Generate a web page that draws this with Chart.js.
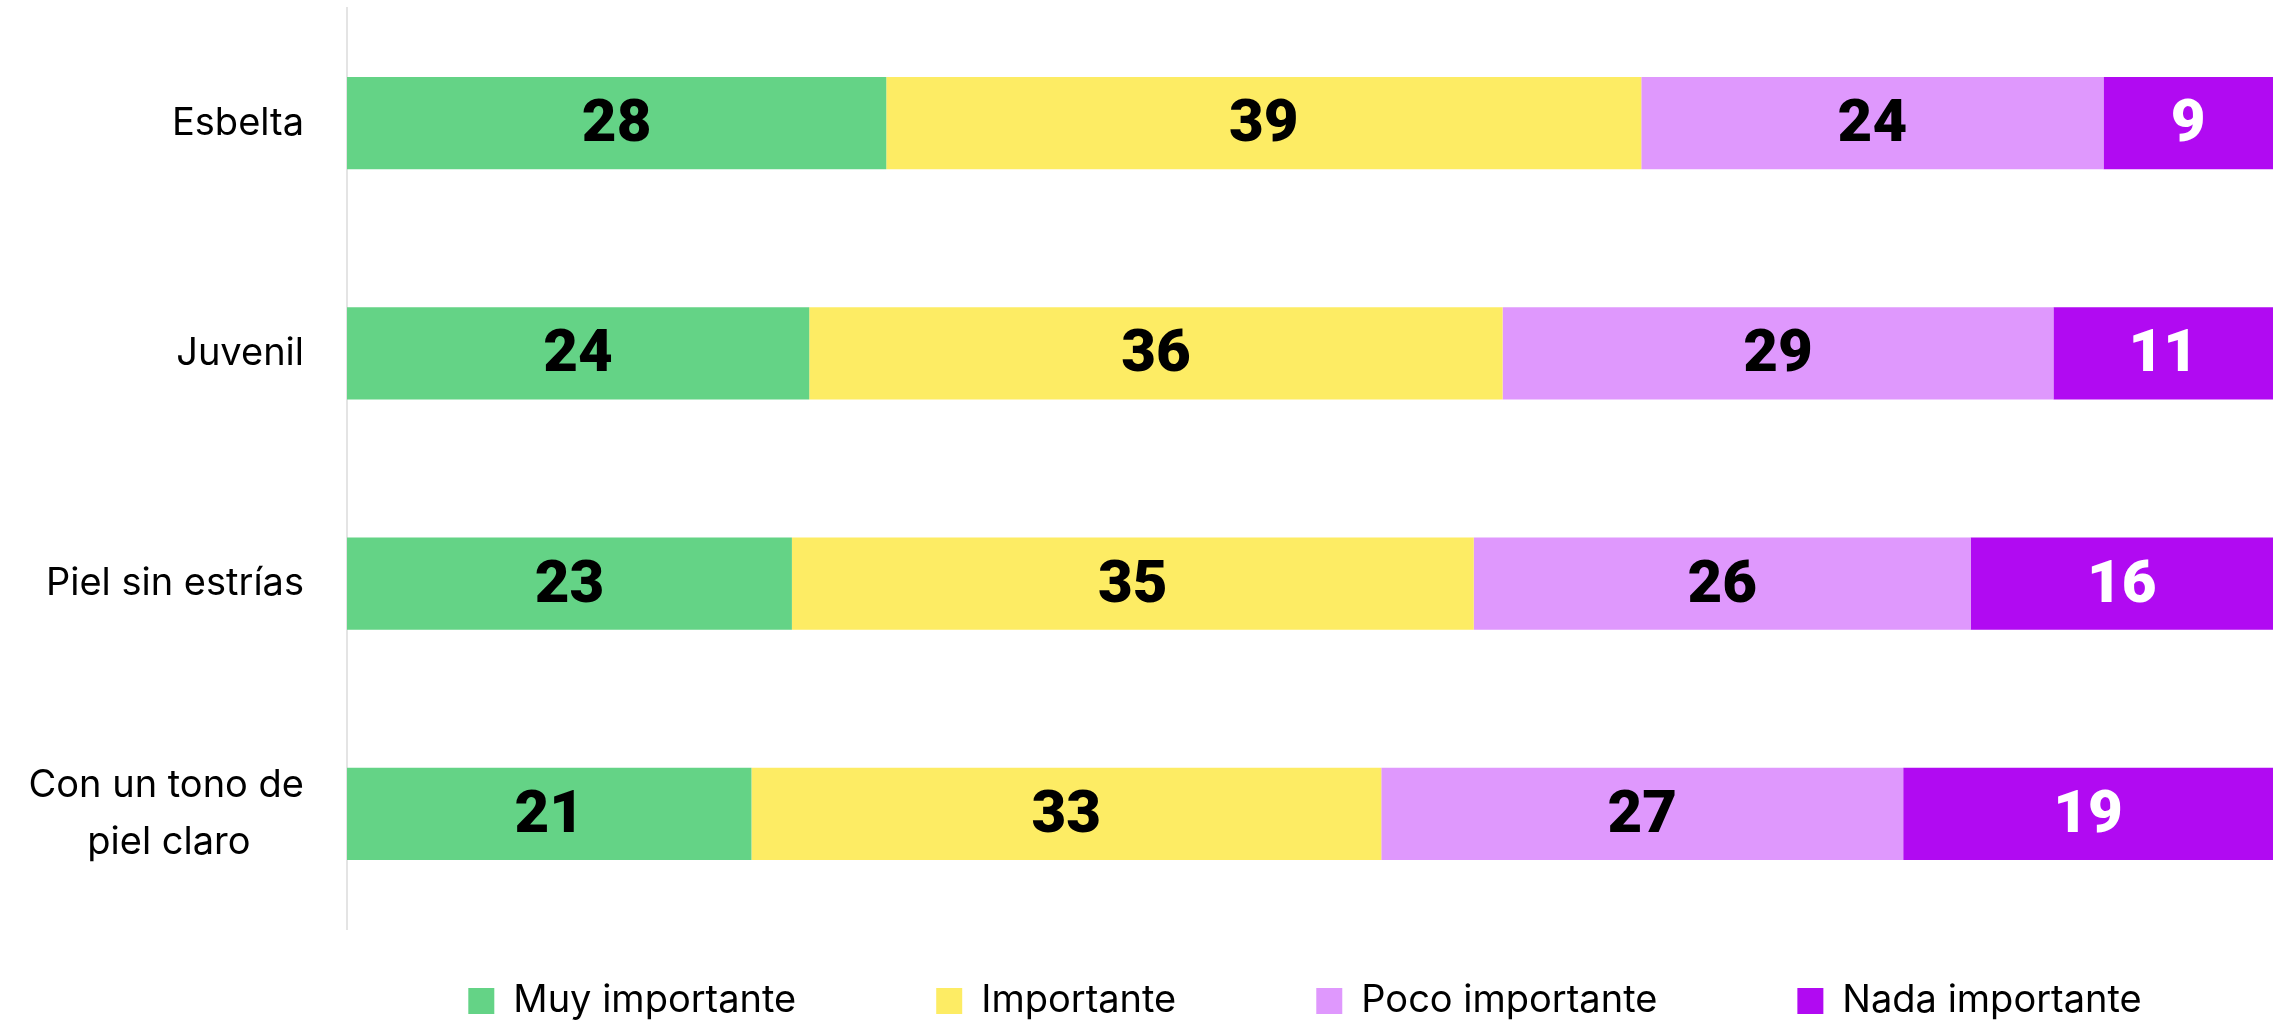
<!DOCTYPE html>
<html>
<head>
<meta charset="utf-8">
<script src="https://cdn.jsdelivr.net/npm/chart.js@4.4.0/dist/chart.umd.min.js"></script>
<style>
  html, body { margin: 0; padding: 0; background: #fff; }
  #wrap { width: 2288px; height: 1021px; }
</style>
</head>
<body>
<div id="wrap"><canvas id="chart"></canvas></div>
<script>
const categories = ['Esbelta', 'Juvenil', 'Piel sin estrías', ['Con un tono de', 'piel claro']];
const seriesNames = ['Muy importante', 'Importante', 'Poco importante', 'Nada importante'];
// shares in %; labels show them rounded
const muyImportante = [28.0, 24.0, 23.1, 21.0];
const importante = [39.2, 36.0, 35.4, 32.7];
const pocoImportante = [24.0, 28.6, 25.8, 27.1];
const nadaImportante = [8.8, 11.4, 15.7, 19.2];

const colors = ['#64d386', '#fdec64', '#df98fd', '#b10af2'];
const valueColors = ['#000', '#000', '#000', '#fff'];
const tickFont = '38px Inter';

// pad shorter lines so multi-line labels look centred on each other
const measureCtx = document.createElement('canvas').getContext('2d');
function centerLines(lines) {
  if (!Array.isArray(lines)) return lines;
  measureCtx.font = tickFont;
  const widths = lines.map(l => measureCtx.measureText(l).width);
  const max = Math.max(...widths);
  const space = measureCtx.measureText(' ').width;
  return lines.map((l, i) => l + ' '.repeat(Math.round((max - widths[i]) / 2 / space)));
}

const valueLabels = {
  id: 'valueLabels',
  afterDatasetsDraw(chart) {
    const ctx = chart.ctx;
    ctx.save();
    ctx.font = '900 60px Roboto';
    ctx.textAlign = 'center';
    ctx.textBaseline = 'middle';
    chart.data.datasets.forEach((ds, i) => {
      chart.getDatasetMeta(i).data.forEach((bar, j) => {
        const p = bar.getProps(['x', 'y', 'base'], true);
        ctx.fillStyle = valueColors[i];
        ctx.fillText(Math.round(ds.data[j]), (p.x + p.base) / 2, p.y + 3);
      });
    });
    ctx.restore();
  }
};

// legend: one row centred under the plot area
const legendPlace = {
  id: 'legendPlace',
  afterLayout(chart) {
    const lg = chart.legend;
    const ca = chart.chartArea;
    const mid = (ca.left + ca.right) / 2 - 5;
    lg.left = mid - 1100;
    lg.right = mid + 1100;
    lg.top = 982 - lg.options.labels.padding;
  }
};

new Chart(document.getElementById('chart'), {
  type: 'bar',
  data: {
    labels: categories,
    datasets: [muyImportante, importante, pocoImportante, nadaImportante].map((d, i) => ({
      label: seriesNames[i],
      data: d,
      backgroundColor: colors[i],
      borderWidth: 0,
      barPercentage: 0.4,
      categoryPercentage: 1
    }))
  },
  options: {
    indexAxis: 'y',
    responsive: true,
    maintainAspectRatio: false,
    devicePixelRatio: 1,
    animation: false,
    layout: { padding: { top: 8, right: 15, left: 0, bottom: 0 } },
    scales: {
      x: { stacked: true, min: 0, max: 100, display: false },
      y: {
        stacked: true,
        grid: { display: false, drawTicks: false },
        border: { display: true, color: '#e4e4e4', width: 2 },
        afterFit(scale) {
          scale.width = 347;
          scale.paddingTop = 0;
          scale.paddingBottom = 0;
        },
        ticks: {
          padding: 43,
          color: '#000',
          font: { family: 'Inter', size: 38, lineHeight: 1.5 },
          callback(value) { return centerLines(this.getLabelForValue(value)); }
        }
      }
    },
    plugins: {
      tooltip: { enabled: false },
      legend: {
        position: 'bottom',
        maxHeight: 92,
        labels: {
          color: '#000',
          boxWidth: 26,
          boxHeight: 26,
          padding: 140,
          font: { family: 'Inter', size: 38 }
        }
      }
    }
  },
  plugins: [valueLabels, legendPlace]
});
</script>
</body>
</html>
